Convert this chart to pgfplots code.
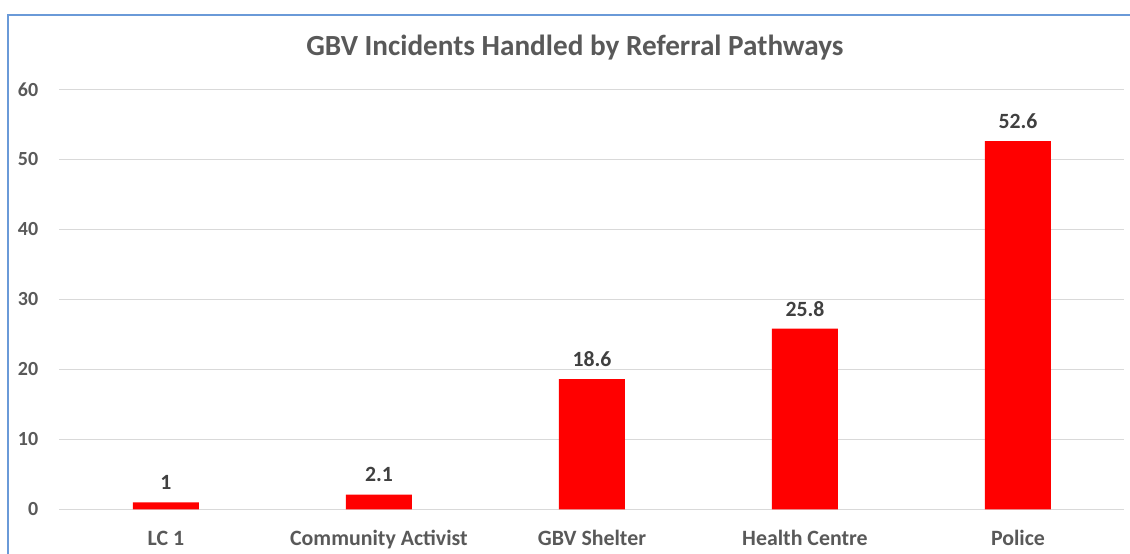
\documentclass[border=0pt]{standalone}
\usepackage{fontspec}
\setmainfont{Carlito}
\usepackage{pgfplots}
\pgfplotsset{compat=1.18}
\definecolor{tickgray}{HTML}{595959}
\definecolor{titlegray}{HTML}{595959}
\definecolor{labelgray}{HTML}{404040}
\definecolor{gridgray}{HTML}{D9D9D9}
\definecolor{frameblue}{HTML}{6A9AD8}
\begin{document}
\begin{tikzpicture}
\begin{axis}[
  at={(0pt,0pt)}, anchor=south west,
  scale only axis, width=798.75pt, height=315pt,
  xmin=-0.5, xmax=4.5, ymin=0, ymax=60,
  ytick={0,10,20,30,40,50,60},
  xtick={0,1,2,3,4},
  xticklabels={LC 1, Community Activist, GBV Shelter, Health Centre, Police},
  axis line style={draw=none}, major tick length=0pt,
  ymajorgrids, grid style={gridgray, line width=0.75pt},
  ybar, bar width=49.5pt,
  tick label style={font=\fontsize{15}{18}\selectfont\bfseries, text=tickgray},
  /pgf/number format/assume math mode=true,
  yticklabel style={anchor=east, inner sep=0pt, xshift=-15.75pt},
  xticklabel style={anchor=base, inner sep=0pt, yshift=-26.8pt, font=\fontsize{16.4}{19}\selectfont\bfseries},
  nodes near coords,
  every node near coord/.append style={font=\fontsize{16.3}{19}\selectfont\bfseries, text=labelgray, anchor=center, inner sep=0pt, yshift=15pt},
  title={GBV Incidents Handled by Referral Pathways},
  title style={at={(0.484,1)}, anchor=center, yshift=25.5pt, font=\fontsize{21.9}{26}\selectfont\bfseries, text=titlegray},
  clip=false,
]
\addplot[fill=red, draw=none] coordinates {(0,1) (1,2.1) (2,18.6) (3,25.8) (4,52.6)};
\end{axis}
\draw[frameblue, line width=0.9pt] (-38.6pt,-40pt) rectangle (810pt,370.7pt);
\pgfresetboundingbox
\path[use as bounding box] (-44.6pt,-32.8pt) rectangle (802.9pt,382pt);
\end{tikzpicture}
\end{document}
